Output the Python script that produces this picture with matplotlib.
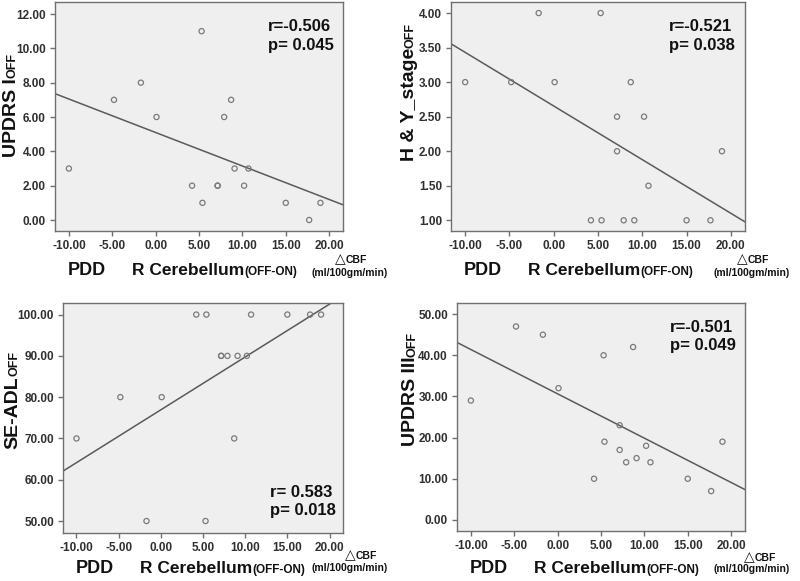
import matplotlib

matplotlib.use("Agg")
import matplotlib.pyplot as plt
import numpy as np
from matplotlib.ticker import FormatStrFormatter, MultipleLocator


FIG_W, FIG_H = 800, 581

# shared x: delta CBF of right cerebellum (OFF-ON), one value per patient
delta_cbf = [-10.0, -4.8, -1.7, 0.1, 4.2, 5.3, 5.4, 7.15, 7.15, 7.9,
             8.7, 9.1, 10.2, 10.7, 15.0, 17.7, 19.0]

updrs_i_off = [3, 7, 8, 6, 2, 11, 1, 2, 2, 6, 7, 3, 2, 3, 1, 0, 1]
hy_stage_off = [3, 3, 4, 3, 1, 4, 1, 2.5, 2.0, 1, 3, 1, 2.5, 1.5, 1, 1, 2]
se_adl_off = [70, 80, 50, 80, 100, 50, 100, 90, 90, 90, 70, 90, 90, 100, 100, 100, 100]
updrs_iii_off = [29, 47, 45, 32, 10, 40, 19, 23, 17, 14, 42, 15, 18, 14, 10, 7, 19]

x_ticks = [-10, -5, 0, 5, 10, 15, 20]

ylabels_main = ["UPDRS I", "H & Y_stage", "SE-ADL", "UPDRS III"]
ylabel_sub = "OFF"
stats_r = ["r=-0.506", "r=-0.521", "r= 0.583", "r=-0.501"]
stats_p = ["p= 0.045", "p= 0.038", "p= 0.018", "p= 0.049"]

FONT = ["Liberation Sans", "DejaVu Sans"]
plt.rcParams["font.family"] = FONT

# panel boxes in pixels: left, top, right, bottom
# xlab = baseline offsets below the axes for (PDD line, CBF line, units line)
PANELS = [
    dict(box=(55, 2, 343, 231), ylim=(-0.64, 12.7), ystep=2, ylab_x=16, ylab_cy=105,
         stats_y=(0.873, 0.79), xlab=(44, 32, 45), tri_dx=-8),
    dict(box=(451, 2, 745, 231), ylim=(0.845, 4.16), ystep=0.5, ylab_x=414, ylab_cy=92,
         stats_y=(0.873, 0.79), xlab=(44, 32, 45), tri_dx=-8),
    dict(box=(63, 303, 343, 533), ylim=(47.1, 102.8), ystep=10, ylab_x=17, ylab_cy=400,
         stats_y=(0.157, 0.078), xlab=(40, 26, 38), tri_dx=2),
    dict(box=(457, 303, 745, 531), ylim=(-2.7, 52.7), ystep=10, ylab_x=415, ylab_cy=389,
         stats_y=(0.873, 0.794), xlab=(42, 30, 41), tri_dx=-1),
]
XLIM = (-11.6, 21.6)
INK = "#111111"


def fig_xy(x, y):
    return x / FIG_W, 1 - y / FIG_H


def add_axes(fig, box):
    left, top, right, bottom = box
    return fig.add_axes([left / FIG_W, 1 - bottom / FIG_H, (right - left) / FIG_W, (bottom - top) / FIG_H])


def style_axes(ax, ylim, ystep):
    ax.set_facecolor("#efefef")
    for spine in ax.spines.values():
        spine.set_color("#707070")
        spine.set_linewidth(1.0)
    ax.set_xlim(*XLIM)
    ax.set_ylim(*ylim)
    ax.set_xticks(x_ticks)
    ax.yaxis.set_major_locator(MultipleLocator(ystep))
    ax.xaxis.set_major_formatter(FormatStrFormatter("%.2f"))
    ax.yaxis.set_major_formatter(FormatStrFormatter("%.2f"))
    ax.tick_params(length=3.5, width=1.0, color="#707070", labelsize=8.5,
                   labelcolor="#303030", pad=3)
    for label in ax.get_xticklabels() + ax.get_yticklabels():
        label.set_fontweight("bold")


def draw_panel(ax, x, y):
    ax.scatter(x, y, s=14, facecolors="none", edgecolors="#7a7a7a", linewidths=0.9, zorder=3)
    slope, intercept = np.polyfit(x, y, 1)
    xs = np.array(XLIM)
    ax.plot(xs, slope * xs + intercept, color="#5a5a5a", linewidth=1.1, zorder=2)


def pair_text(fig, renderer, big, small, big_size, small_size, rotation=0):
    kw = dict(fontweight="bold", color=INK, ha="left", va="baseline",
              rotation=rotation, rotation_mode="anchor")
    t1 = fig.text(0, 0, big, fontsize=big_size, **kw)
    t2 = fig.text(0, 0, small, fontsize=small_size, **kw)
    b1 = t1.get_window_extent(renderer)
    b2 = t2.get_window_extent(renderer)
    if rotation:
        return t1, t2, b1.height, b2.height
    return t1, t2, b1.width, b2.width


def main():
    fig = plt.figure(figsize=(FIG_W / 100, FIG_H / 100), dpi=100)
    fig.patch.set_facecolor("white")
    renderer = fig.canvas.get_renderer()

    series = [updrs_i_off, hy_stage_off, se_adl_off, updrs_iii_off]
    for i, (cfg, y) in enumerate(zip(PANELS, series)):
        ax = add_axes(fig, cfg["box"])
        style_axes(ax, cfg["ylim"], cfg["ystep"])
        draw_panel(ax, delta_cbf, y)

        ry, py = cfg["stats_y"]
        ax.text(0.74, ry, stats_r[i], transform=ax.transAxes, fontsize=12,
                fontweight="bold", color=INK, va="baseline")
        ax.text(0.74, py, stats_p[i], transform=ax.transAxes, fontsize=12,
                fontweight="bold", color=INK, va="baseline")

        left, top, right, bottom = cfg["box"]
        d_main, d_cbf, d_units = cfg["xlab"]

        # y label: big text plus small "OFF" on the same baseline
        t1, t2, l1, l2 = pair_text(fig, renderer, ylabels_main[i], ylabel_sub, 14, 9, rotation=90)
        y0 = cfg["ylab_cy"] + (l1 + l2) / 2
        t1.set_position(fig_xy(cfg["ylab_x"], y0))
        t2.set_position(fig_xy(cfg["ylab_x"], y0 - l1))

        # x label
        fig.text(*fig_xy(left + 13, bottom + d_main), "PDD", fontsize=13, fontweight="bold",
                 color=INK, va="baseline")
        t1, t2, w1, w2 = pair_text(fig, renderer, "R Cerebellum", "(OFF-ON)", 12.5, 8.5)
        t1.set_position(fig_xy(left + 77, bottom + d_main))
        t2.set_position(fig_xy(left + 77 + w1, bottom + d_main))

        # delta CBF units
        tri = fig.text(*fig_xy(right + cfg["tri_dx"], bottom + d_cbf), "\u25b3", fontsize=10,
                       color=INK, va="baseline", family=["DejaVu Sans"])
        tw = tri.get_window_extent(renderer).width
        fig.text(*fig_xy(right + cfg["tri_dx"] + tw, bottom + d_cbf), "CBF", fontsize=7.5,
                 fontweight="bold", color=INK, va="baseline")
        fig.text(*fig_xy(right - 31, bottom + d_units), "(ml/100gm/min)", fontsize=7.5,
                 fontweight="bold", color=INK, va="baseline")

    fig.savefig("out.png", dpi=100)
    plt.close(fig)


if __name__ == "__main__":
    main()
